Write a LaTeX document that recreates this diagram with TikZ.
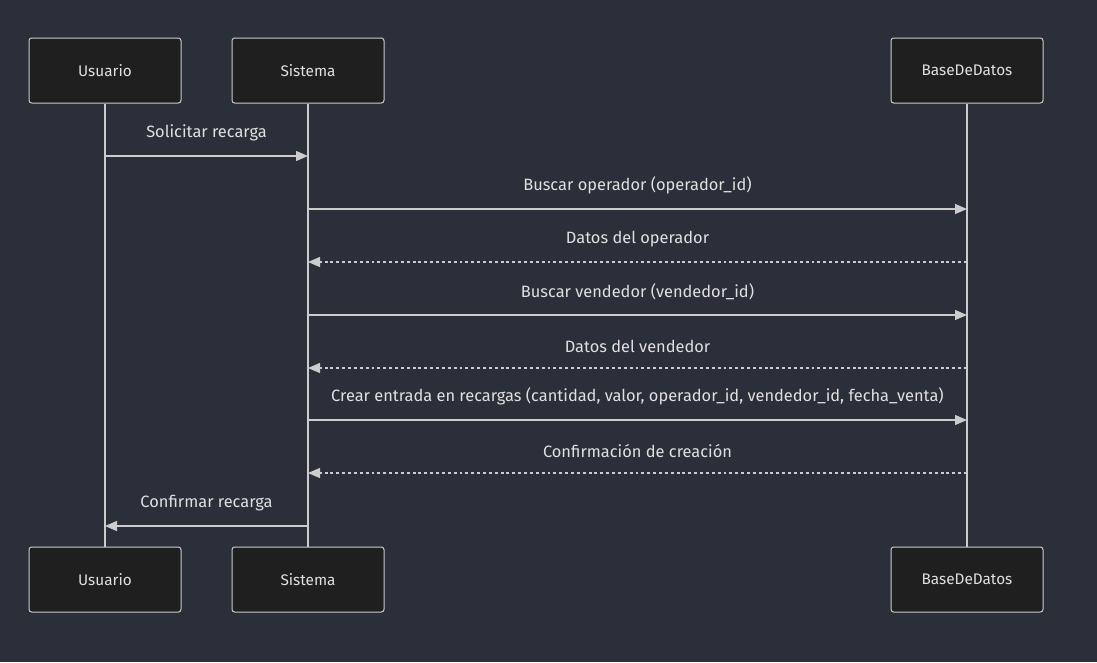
\documentclass[tikz,border=0pt]{standalone}
\usepackage{fontspec}
\setmainfont{Fira Sans}
\usetikzlibrary{arrows.meta}

\definecolor{fondo}{HTML}{2B2F3A}
\definecolor{caja}{HTML}{1F1F1F}
\definecolor{linea}{HTML}{CCCCCC}
\definecolor{texto}{HTML}{E0E0E0}

\tikzset{
  actor/.style={draw=linea, fill=caja, rounded corners=2pt, line width=0.75pt,
    minimum width=114pt, minimum height=48.75pt, text=texto, font=\fontsize{11.5}{13}\selectfont},
  vida/.style={draw=linea, line width=1.1pt},
  msg/.style={draw=linea, line width=0.9pt, -{Triangle[length=9pt,width=7.5pt]}},
  resp/.style={msg, dash pattern=on 2.2pt off 2.2pt},
  etiq/.style={text=texto, font=\fontsize{12.3}{14}\selectfont}
}

\begin{document}
\begin{tikzpicture}[x=0.75pt, y=-0.75pt]
\fill[fondo] (0,0) rectangle (1097,662);
\useasboundingbox (0,0) rectangle (1097,662);

% actores arriba
\node[actor] (usuA) at (105,70.5) {Usuario};
\node[actor] (sisA) at (308,70.5) {Sistema};
\node[actor] (bdA)  at (967,70.5) {BaseDeDatos};

% actores abajo
\node[actor] (usuB) at (105,579.5) {Usuario};
\node[actor] (sisB) at (308,579.5) {Sistema};
\node[actor] (bdB)  at (967,579.5) {BaseDeDatos};

% lineas de vida
\draw[vida] (usuA) -- (usuB);
\draw[vida] (sisA) -- (sisB);
\draw[vida] (bdA) -- (bdB);

% puntos de los mensajes
\foreach \n/\y in {1/156, 2/209, 3/262, 4/315, 5/368, 6/420, 7/473, 8/526} {
  \coordinate (u\n) at (105,\y);
  \coordinate (s\n) at (308,\y);
  \coordinate (b\n) at (967,\y);
}

\draw[msg]  (u1) -- (s1) node[etiq, midway, above=7.5pt] (m1) {Solicitar recarga};
\draw[msg]  (s2) -- (b2) node[etiq, midway, above=7.5pt] (m2) {Buscar operador (operador\_id)};
\draw[resp] (b3) -- (s3) node[etiq, midway, above=7.5pt] (m3) {Datos del operador};
\draw[msg]  (s4) -- (b4) node[etiq, midway, above=7.5pt] (m4) {Buscar vendedor (vendedor\_id)};
\draw[resp] (b5) -- (s5) node[etiq, midway, above=7.5pt] (m5) {Datos del vendedor};
\draw[msg]  (s6) -- (b6) node[etiq, midway, above=7.5pt] (m6) {Crear entrada en recargas (cantidad, valor, operador\_id, vendedor\_id, fecha\_venta)};
\draw[resp] (b7) -- (s7) node[etiq, midway, above=7.5pt] (m7) {Confirmación de creación};
\draw[msg]  (s8) -- (u8) node[etiq, midway, above=7.5pt] (m8) {Confirmar recarga};
\end{tikzpicture}
\end{document}
